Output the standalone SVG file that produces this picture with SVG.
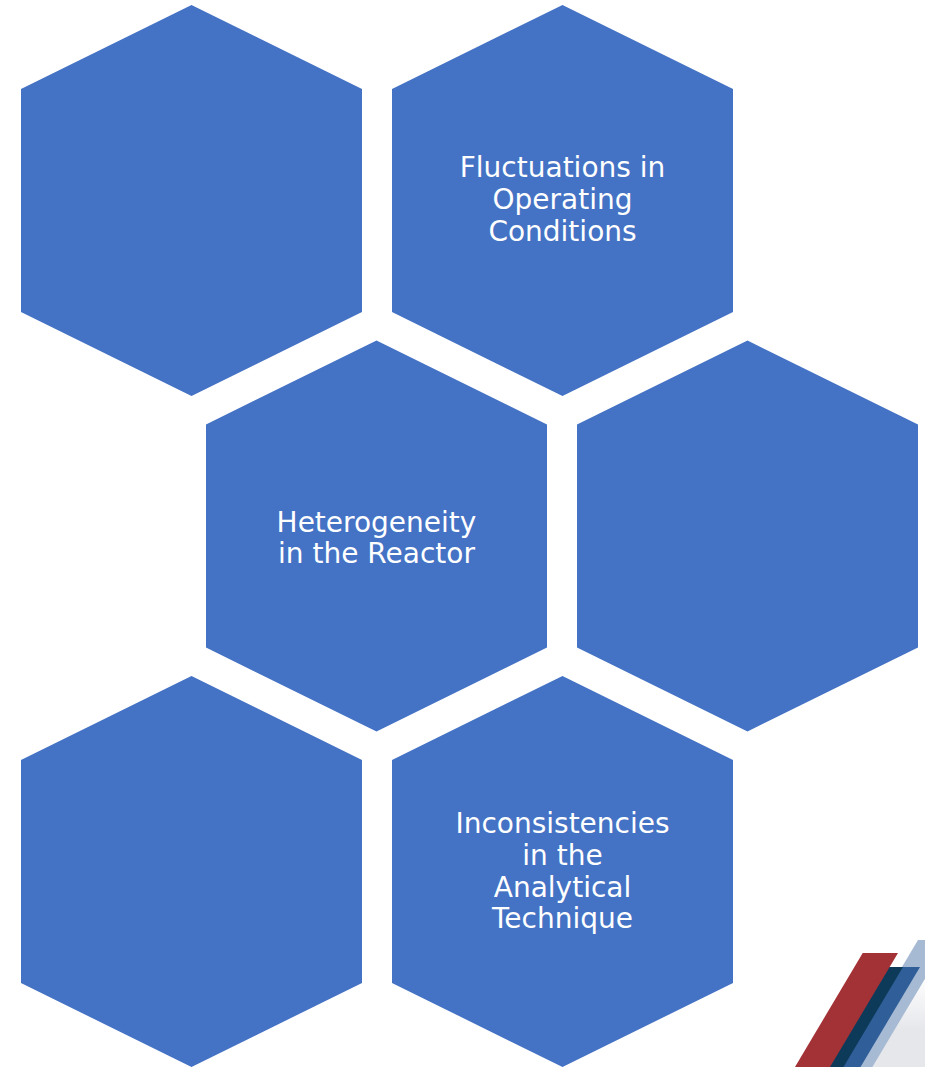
<svg xmlns="http://www.w3.org/2000/svg" width="925" height="1067" viewBox="0 0 925 1067">
  <defs>
    <style>
      .hex { fill: #4472C4; }
      .label { fill: #FFFFFF; font-family: "DejaVu Sans", "Liberation Sans", sans-serif; font-size: 28px; text-anchor: middle; }
    </style>
    <!-- one hexagon, pointy top, centred on x=0, top vertex at y=0 -->
    <polygon id="hexShape" points="0,0 170.5,84 170.5,307 0,391 -170.5,307 -170.5,84"/>
    <linearGradient id="greyFade" x1="0" y1="0" x2="0" y2="1">
      <stop offset="0" stop-color="#E6E7EB" stop-opacity="0"/>
      <stop offset="0.6" stop-color="#E6E7EB" stop-opacity="1"/>
      <stop offset="1" stop-color="#E6E7EB" stop-opacity="1"/>
    </linearGradient>
  </defs>

  <rect width="925" height="1067" fill="#FFFFFF"/>

  <g id="hex-top-left">
    <use href="#hexShape" class="hex" transform="translate(191.5,5)"/>
  </g>

  <g id="hex-fluctuations">
    <use href="#hexShape" class="hex" transform="translate(562.5,5)"/>
    <text class="label" x="562.5" y="177">Fluctuations in</text>
    <text class="label" x="562.5" y="209">Operating</text>
    <text class="label" x="562.5" y="241">Conditions</text>
  </g>

  <g id="hex-heterogeneity">
    <use href="#hexShape" class="hex" transform="translate(376.5,340.5)"/>
    <text class="label" x="376.5" y="532">Heterogeneity</text>
    <text class="label" x="376.5" y="563">in the Reactor</text>
  </g>

  <g id="hex-middle-right">
    <use href="#hexShape" class="hex" transform="translate(747.5,340.5)"/>
  </g>

  <g id="hex-bottom-left">
    <use href="#hexShape" class="hex" transform="translate(191.5,676)"/>
  </g>

  <g id="hex-inconsistencies">
    <use href="#hexShape" class="hex" transform="translate(562.5,676)"/>
    <text class="label" x="562.5" y="833">Inconsistencies</text>
    <text class="label" x="562.5" y="865">in the</text>
    <text class="label" x="562.5" y="897">Analytical</text>
    <text class="label" x="562.5" y="928">Technique</text>
  </g>

  <g id="connectors"/>

  <!-- slanted stripe ornament, bottom right corner -->
  <g id="corner-stripes">
    <polygon points="925,975 925,1067 872,1067 922,982" fill="url(#greyFade)"/>
    <polygon points="918,940 948,940 872.4,1067 842.4,1067" fill="#A7BAD3"/>
    <polygon points="895,967 920,967 860.5,1067 835.5,1067" fill="#2F5E99"/>
    <polygon points="880,967 903,967 843.5,1067 820.5,1067" fill="#0E3A5A"/>
    <polygon points="862.7,953 898,953 830,1067 795,1067" fill="#A33236"/>
  </g>
</svg>
